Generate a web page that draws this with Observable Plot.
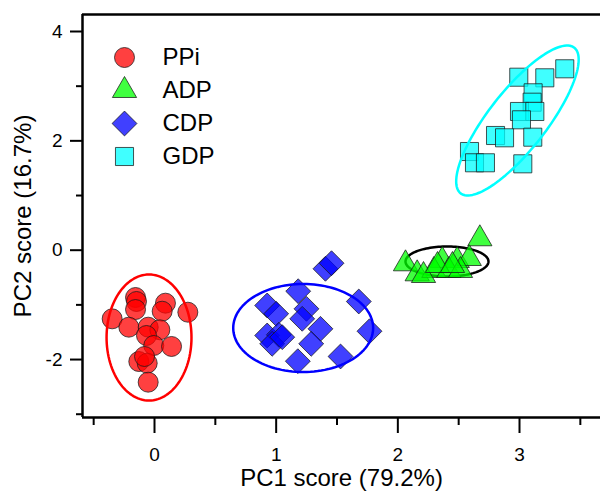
<!DOCTYPE html>
<html><head><meta charset="utf-8">
<script src="https://cdn.jsdelivr.net/npm/d3@7"></script>
<script src="https://cdn.jsdelivr.net/npm/@observablehq/plot@0.6"></script>
<style>body{margin:0;background:#fff}</style>
</head><body><div id="chart"></div>
<script>
// ---- data ----
const groups  = ["PPi", "ADP", "CDP", "GDP"];
const colors  = ["#ff0000", "#00ff00", "#0000ff", "#00ffff"];
const symbols = ["circle", "triangle", "diamond2", "square"];

const ppiX = [-0.156, -0.148, -0.156, 0.090, 0.063, 0.274, -0.348, -0.211, -0.052, 0.044, -0.066, -0.006, 0.140, -0.129, -0.060, -0.082, -0.052];
const ppiY = [-0.865, -0.938, -1.085, -0.969, -1.116, -1.134, -1.255, -1.408, -1.408, -1.456, -1.560, -1.743, -1.761, -2.036, -2.067, -1.944, -2.414];

const adpX = [2.063, 2.159, 2.365, 2.488, 2.587, 2.674, 2.296, 2.419, 2.515, 2.211, 2.326, 2.449];
const adpY = [-0.249, -0.432, -0.188, -0.188, -0.152, 0.209, -0.371, -0.371, -0.371, -0.463, -0.280, -0.280];

const cdpX = [1.405, 1.455, 1.181, 0.926, 1.000, 1.249, 1.214, 1.679, 1.364, 0.926, 1.022, 0.967, 1.288, 1.767, 1.178, 1.529, 1.050];
const cdpY = [-0.340, -0.238, -0.750, -1.011, -1.163, -1.072, -1.255, -0.938, -1.438, -1.560, -1.547, -1.712, -1.712, -1.482, -2.030, -1.944, -1.591];

const gdpX = [3.372, 2.994, 3.208, 3.112, 3.104, 3.000, 3.126, 3.016, 2.803, 2.877, 3.109, 2.589, 2.630, 2.720, 3.027];
const gdpY = [3.318, 3.164, 3.153, 2.879, 2.707, 2.537, 2.537, 2.385, 2.098, 2.056, 2.067, 1.805, 1.599, 1.599, 1.580];

// ellipses: centre and two semi-axis vectors (data units)
const ellGroups = ["ADP", "PPi", "CDP", "GDP"];
const ellColors = ["#000000", "#ff0000", "#0000ff", "#00ffff"];
const ellCX = [2.404, -0.045, 1.222, 2.983];
const ellCY = [-0.207, -1.597, -1.423, 2.372];
const ellUX = [0.341, 0.349, 0.575, 0.467];
const ellUY = [0.000, 0.000, 0.000, 1.332];
const ellVX = [0.000, 0.000, 0.000, 0.188];
const ellVY = [0.274, 1.152, 0.805, -0.327];

const xTicksMajor = [0, 1, 2, 3];
const xTicksMinor = [-0.5, 0.5, 1.5, 2.5, 3.5];
const yTicksMajor = [-2, 0, 2, 4];
const yTicksMinor = [-3, -1, 1, 3];

const xTitle = "PC1 score (79.2%)";
const yTitle = "PC2 score (16.7%)";

// ---- build tables ----
const seriesX = [ppiX, adpX, cdpX, gdpX];
const seriesY = [ppiY, adpY, cdpY, gdpY];
const points = groups.map((g, i) => seriesX[i].map((x, j) => ({group: g, x, y: seriesY[i][j]})));

const N = 120;
const ellipses = ellGroups.map((g, k) => d3.range(N + 1).map(s => {
  const t = 2 * Math.PI * s / N;
  return {
    group: g,
    x: ellCX[k] + ellUX[k] * Math.cos(t) + ellVX[k] * Math.sin(t),
    y: ellCY[k] + ellUY[k] * Math.cos(t) + ellVY[k] * Math.sin(t)
  };
}));

// ---- layout ----
const W = 600, H = 492;
const mL = 82, mT = 14, mB = 75, mR = 0;
const xDomain = [-0.5918, 3.6657];
const yDomain = [-3.060, 4.311];
const radii = [10, 9, 11.2, 10.2];
const dotStyle = {fillOpacity: 0.75, stroke: "#1a1a1a", strokeWidth: 1, strokeOpacity: 0.75};

const marks = [];
// black ellipse under its markers
marks.push(Plot.line(ellipses[0], {x: "x", y: "y", stroke: ellColors[0], strokeWidth: 2.5}));
groups.forEach((g, i) => {
  marks.push(Plot.dot(points[i], {x: "x", y: "y", symbol: symbols[i], fill: colors[i], r: radii[i], ...dotStyle}));
});
for (let k = 1; k < ellGroups.length; k++) {
  marks.push(Plot.line(ellipses[k], {x: "x", y: "y", stroke: ellColors[k], strokeWidth: 2.5}));
}
// frame (left, top, bottom)
marks.push(Plot.ruleX([xDomain[0]], {stroke: "black", strokeWidth: 2.5}));
marks.push(Plot.ruleY([yDomain[1]], {stroke: "black", strokeWidth: 2.5}));
marks.push(Plot.ruleY([yDomain[0]], {stroke: "black", strokeWidth: 2.5}));
// axes
marks.push(Plot.axisX(xTicksMajor, {tickSize: 16, tickPadding: 14, fontSize: 19, strokeWidth: 2, label: null, tickFormat: d => String(d)}));
marks.push(Plot.axisX(xTicksMinor, {tickSize: 8, strokeWidth: 2, label: null, tickFormat: () => ""}));
marks.push(Plot.axisY(yTicksMajor, {tickSize: 12, tickPadding: 8, fontSize: 19, strokeWidth: 2, label: null, tickFormat: d => String(d)}));
marks.push(Plot.axisY(yTicksMinor, {tickSize: 6, strokeWidth: 2, label: null, tickFormat: () => ""}));
// axis titles
marks.push(Plot.text([xTitle], {frameAnchor: "bottom", dy: 61, text: d => d, fontSize: 24, textAnchor: "middle", lineAnchor: "middle"}));
marks.push(Plot.text([yTitle], {frameAnchor: "left", dx: -59, rotate: -90, text: d => d, fontSize: 24, textAnchor: "middle", lineAnchor: "middle"}));
// legend
groups.forEach((g, i) => {
  marks.push(Plot.dot([g], {frameAnchor: "top-left", dx: 42, dy: 43 + 33 * i, symbol: symbols[i], fill: colors[i], r: radii[i], ...dotStyle}));
  marks.push(Plot.text([g], {frameAnchor: "top-left", dx: 80, dy: 43 + 33 * i, text: d => d, fontSize: 24, textAnchor: "start", lineAnchor: "middle"}));
});

const chart = Plot.plot({
  width: W, height: H,
  marginLeft: mL, marginTop: mT, marginBottom: mB, marginRight: mR,
  x: {domain: xDomain},
  y: {domain: yDomain},
  style: {fontFamily: "'Liberation Sans', Arial, sans-serif", fontSize: "19px", color: "black", background: "white"},
  marks
});
document.getElementById("chart").appendChild(chart);
</script>
</body></html>
